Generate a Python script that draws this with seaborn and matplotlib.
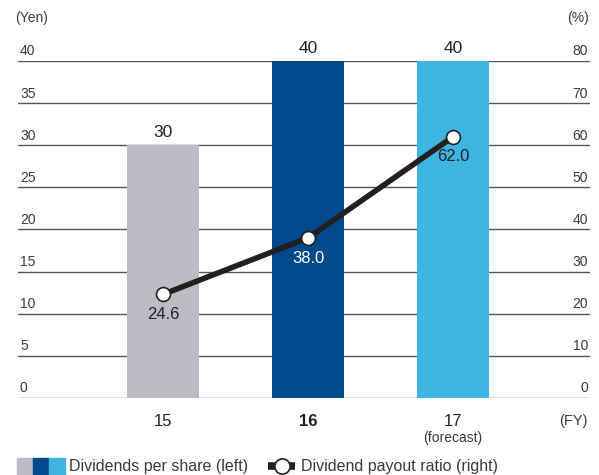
import matplotlib
matplotlib.use("Agg")
import matplotlib.pyplot as plt
import matplotlib.transforms as mtransforms
from matplotlib.patches import Rectangle
from matplotlib.lines import Line2D
import seaborn as sns
import pandas as pd

sns.set_theme(style="white")
plt.rcParams["font.family"] = ["Liberation Sans Narrow", "Liberation Sans", "DejaVu Sans"]

# Data
years = ["15", "16", "17"]
dividends = [30, 40, 40]            # Yen, left axis
payout_ratio = [24.6, 38.0, 62.0]   # %, right axis
bar_colors = ["#BCBDC1", "#004A8C", "#3DB5E0"]
left_ticks = [0, 5, 10, 15, 20, 25, 30, 35, 40]
right_ticks = [0, 10, 20, 30, 40, 50, 60, 70, 80]

TEXT = "#3a3a3a"
DARK = "#231F20"

fig = plt.figure(figsize=(5.99, 4.75), dpi=100)
ax = fig.add_axes([18 / 599, 1 - 398 / 475, (590 - 18) / 599, (398 - 61) / 475])

df = pd.DataFrame({"year": years, "dividend": dividends})
sns.barplot(data=df, x="year", y="dividend", hue="year", palette=bar_colors,
            width=0.5, legend=False, ax=ax, saturation=1, zorder=3, linewidth=0)
ax.set_ylim(0, 40)
ax.set_xlim(-1.0, 2.945)

# horizontal rules
for v in left_ticks:
    ax.axhline(v, color="#555555", lw=1.0, zorder=1)

for s in ax.spines.values():
    s.set_visible(False)
ax.set_xticks([])
ax.set_yticks([])
ax.set_xlabel("")
ax.set_ylabel("")

# y tick labels sitting on top of the rules
lt = mtransforms.blended_transform_factory(fig.transFigure, ax.transData)
for v in left_ticks:
    ax.text(20 / 599, v + 0.3, str(v), transform=lt, ha="left", va="bottom",
            fontsize=10, color=TEXT)
ax2 = ax.twinx()
ax2.set_ylim(0, 80)
for s in ax2.spines.values():
    s.set_visible(False)
ax2.set_yticks([])
rt = mtransforms.blended_transform_factory(fig.transFigure, ax2.transData)
for v in right_ticks:
    ax2.text(588 / 599, v + 0.6, str(v), transform=rt, ha="right", va="bottom",
             fontsize=10, color=TEXT)

fig.text(15 / 599, 1 - 18 / 475, "(Yen)", ha="left", va="center", fontsize=10, color=TEXT)
fig.text(589 / 599, 1 - 18 / 475, "(%)", ha="right", va="center", fontsize=10, color=TEXT)

# bar value labels
for i, v in enumerate(dividends):
    ax.text(i, v + 0.6, str(v), ha="center", va="bottom", fontsize=12.5, color=DARK)

# payout ratio line
ax2.plot(range(len(years)), payout_ratio, color=DARK, lw=4, zorder=5,
         marker="o", markersize=10, markerfacecolor="white",
         markeredgecolor=DARK, markeredgewidth=1.2)
label_colors = [DARK, "white", DARK]
for i, v in enumerate(payout_ratio):
    ax2.text(i, v - 3.0, f"{v:.1f}", ha="center", va="top", fontsize=12,
             color=label_colors[i])

# category labels
xt = mtransforms.blended_transform_factory(ax.transData, fig.transFigure)
for i, y in enumerate(years):
    ax.text(i, 1 - 421 / 475, y, transform=xt, ha="center", va="center",
            fontsize=12, color=DARK, fontweight="bold" if y == "16" else "normal")
ax.text(2, 1 - 438 / 475, "(forecast)", transform=xt, ha="center", va="center",
        fontsize=10, color=TEXT)
fig.text(588 / 599, 1 - 421 / 475, "(FY)", ha="right", va="center", fontsize=10.5, color=TEXT)

# legend
ly = 1 - 475 / 475
lh = 17 / 475
for k, c in enumerate(bar_colors):
    fig.patches.append(Rectangle(((17 + k * 16) / 599, ly), 16 / 599, lh,
                                 transform=fig.transFigure, color=c))
fig.text(69 / 599, 1 - 466 / 475, "Dividends per share (left)", ha="left", va="center",
         fontsize=11.5, color=TEXT)
fig.lines.append(Line2D([268 / 599, 295 / 599], [1 - 466 / 475] * 2, transform=fig.transFigure,
                        color=DARK, lw=5.5, solid_capstyle="butt"))
fig.lines.append(Line2D([281.5 / 599], [1 - 466 / 475], transform=fig.transFigure,
                        color=DARK, marker="o", markersize=11, markerfacecolor="white",
                        markeredgecolor=DARK, markeredgewidth=1.2))
fig.text(301 / 599, 1 - 466 / 475, "Dividend payout ratio (right)", ha="left", va="center",
         fontsize=11.5, color=TEXT)

fig.savefig("out.png", dpi=100)
